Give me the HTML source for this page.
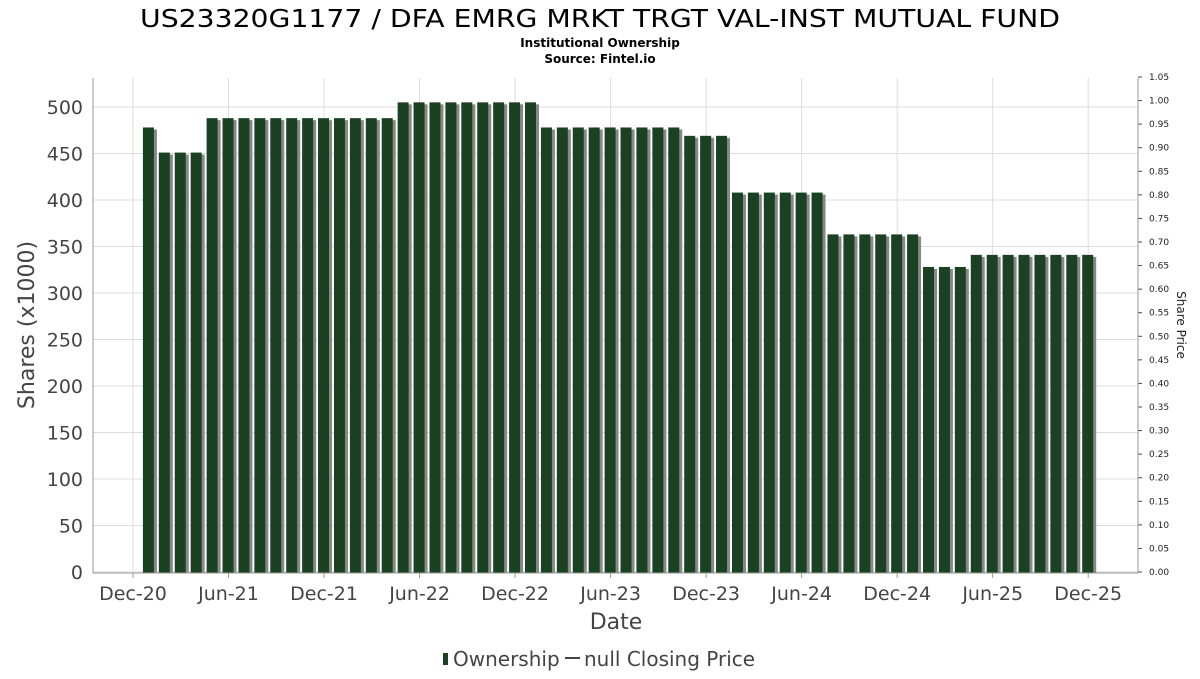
<!DOCTYPE html>
<html><head><meta charset="utf-8"><style>
body{margin:0;background:#fff;font-family:"DejaVu Sans","Liberation Sans",sans-serif;}
</style></head><body>
<svg id="c" width="1200" height="675" xmlns="http://www.w3.org/2000/svg">
<text x="600" y="27" text-anchor="middle" font-size="25" fill="#000" textLength="920" lengthAdjust="spacingAndGlyphs">US23320G1177 / DFA EMRG MRKT TRGT VAL-INST MUTUAL FUND</text>
<text x="600" y="47" text-anchor="middle" font-size="12" font-weight="bold">Institutional Ownership</text>
<text x="600" y="63" text-anchor="middle" font-size="12" font-weight="bold">Source: Fintel.io</text>
<g id="grid"></g><g id="bars"></g><g id="axes"></g>
<text x="616" y="629" text-anchor="middle" font-size="22" fill="#444">Date</text>
<text transform="translate(34,325) rotate(-90)" text-anchor="middle" font-size="22" fill="#444">Shares (x1000)</text>
<text transform="translate(1177,325) rotate(90)" text-anchor="middle" font-size="12" fill="#222">Share Price</text>
<g>
<rect x="443" y="653" width="5" height="12" fill="#1a4222"/>
<text x="453" y="666" font-size="20" fill="#444">Ownership</text>
<line x1="565" y1="658" x2="580" y2="658" stroke="#444" stroke-width="2"/>
<text x="584" y="666" font-size="20" fill="#444">null Closing Price</text>
</g>
</svg>
<script>
const values=[478,451,451,451,488,488,488,488,488,488,488,488,488,488,488,488,505,505,505,505,505,505,505,505,505,478,478,478,478,478,478,478,478,478,469,469,469,408,408,408,408,408,408,363,363,363,363,363,363,328,328,328,341,341,341,341,341,341,341,341];
const yTicks=[0,50,100,150,200,250,300,350,400,450,500];
const y2Ticks=[0,0.05,0.1,0.15,0.2,0.25,0.3,0.35,0.4,0.45,0.5,0.55,0.6,0.65,0.7,0.75,0.8,0.85,0.9,0.95,1.0,1.05];
const xTickLabels=["Dec-20","Jun-21","Dec-21","Jun-22","Dec-22","Jun-23","Dec-23","Jun-24","Dec-24","Jun-25","Dec-25"];
const xTickMonths=[0,6,12,18,24,30,36,42,48,54,60];
const NS="http://www.w3.org/2000/svg";
const L=93,R=1138,T=78,B=573;
const x=m=>133+m*15.92;
const y=v=>572-v*0.93;
const y2=v=>572-v/1.05*495;
function mk(t,a,p){const e=document.createElementNS(NS,t);for(const k in a)e.setAttribute(k,a[k]);p.appendChild(e);return e;}
const g=document.getElementById('grid'),b=document.getElementById('bars'),ax=document.getElementById('axes');
mk('rect',{x:L,y:T,width:R-L,height:B-T,fill:'#fff',stroke:'none'},g);
yTicks.forEach(v=>{const l=mk('line',{x1:L,x2:R,y1:y(v),y2:y(v),stroke:'#ddd'},g);


const t=mk('text',{x:83,y:y(v)+7,'text-anchor':'end','font-size':19,fill:'#444'},ax);t.textContent=v;

});
xTickMonths.forEach((m,i)=>{const l=mk('line',{x1:x(m),x2:x(m),y1:T,y2:B,stroke:'#ddd'},g);


mk('line',{x1:x(m),x2:x(m),y1:B,y2:B+5,stroke:'#999'},ax);
const t=mk('text',{x:x(m),y:600,'text-anchor':'middle','font-size':19,fill:'#444'},ax);t.textContent=xTickLabels[i];

});
y2Ticks.forEach(v=>{mk('line',{x1:R,x2:R+4,y1:y2(v),y2:y2(v),stroke:'#444'},ax);
const t=mk('text',{x:1149,y:y2(v)+3,'font-size':9,fill:'#222'},ax);t.textContent=v.toFixed(2);

});
values.forEach((v,i)=>{const cx=x(i+1);
mk('rect',{x:cx-4,y:y(v)+2,width:12,height:B-y(v)-2,fill:'#888'},b);
const r=mk('rect',{x:cx-6,y:y(v),width:11,height:B-y(v),fill:'#1a4222'},b);

});
mk('line',{x1:L,x2:L,y1:T,y2:B,stroke:'#999'},ax);
mk('line',{x1:R,x2:R,y1:T,y2:B,stroke:'#999'},ax);
mk('line',{x1:L,x2:R,y1:B,y2:B,stroke:'#999'},ax);
</script>
</body></html>
